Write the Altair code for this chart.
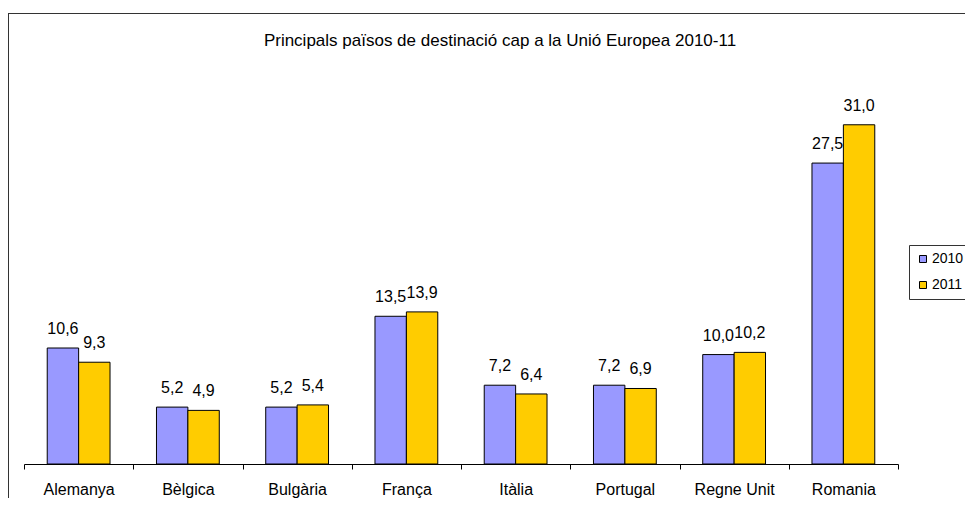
import altair as alt
import pandas as pd

categories = ["Alemanya", "Bèlgica", "Bulgària", "França", "Itàlia", "Portugal", "Regne Unit", "Romania"]
years = ["2010", "2011"]
values_2010 = [10.6, 5.2, 5.2, 13.5, 7.2, 7.2, 10.0, 27.5]
values_2011 = [9.3, 4.9, 5.4, 13.9, 6.4, 6.9, 10.2, 31.0]
colors = ["#9999FF", "#FFCC00"]
title_text = "Principals països de destinació cap a la Unió Europea 2010-11"

rows = []
for c, a, b in zip(categories, values_2010, values_2011):
    rows.append({"pais": c, "any": "2010", "valor": a})
    rows.append({"pais": c, "any": "2011", "valor": b})
df = pd.DataFrame(rows)

FONT = "Liberation Sans"

x_enc = alt.X(
    "pais:N",
    sort=categories,
    title=None,
    scale=alt.Scale(paddingInner=0, paddingOuter=0),
    axis=alt.Axis(
        tickBand="extent",
        labelAngle=0,
        labelFont=FONT,
        labelFontSize=16,
        labelColor="black",
        labelBaseline="alphabetic",
        labelPadding=25,
        tickSize=5,
        tickColor="black",
        domainColor="black",
        domainWidth=1,
        tickWidth=1,
        grid=False,
    ),
)
xoff = alt.XOffset("any:N", sort=years, scale=alt.Scale(paddingInner=0, paddingOuter=0.74))
y_enc = alt.Y("valor:Q", scale=alt.Scale(domain=[0, 35], nice=False), axis=None)

base = alt.Chart(df)

bars = base.mark_bar(stroke="black", strokeWidth=1).encode(
    x=x_enc,
    xOffset=xoff,
    y=y_enc,
    color=alt.Color(
        "any:N",
        sort=years,
        title=None,
        scale=alt.Scale(domain=years, range=colors),
        legend=alt.Legend(
            orient="none",
            legendX=885,
            legendY=164,
            padding=7,
            strokeColor="#333333",
            fillColor="white",
            symbolType="square",
            symbolSize=49,
            symbolStrokeColor="black",
            symbolStrokeWidth=1,
            symbolOpacity=1,
            labelFont=FONT,
            labelFontSize=14,
            labelColor="black",
            labelOffset=2,
            rowPadding=12,
        ),
    ),
)

labels = base.transform_calculate(
    lab="replace(format(datum.valor, '.1f'), '.', ',')"
).mark_text(font=FONT, fontSize=16, color="black", baseline="alphabetic", dy=-14).encode(
    x=alt.X("pais:N", sort=categories),
    xOffset=alt.XOffset("any:N", sort=years),
    y=alt.Y("valor:Q"),
    text="lab:N",
)

one = alt.Chart(pd.DataFrame({"k": [0]}))
frame_left = one.mark_rule(color="#333333", strokeWidth=1).encode(
    x=alt.value(-15.5), y=alt.value(-68), y2=alt.value(440)
)
frame_top = one.mark_rule(color="#333333", strokeWidth=1).encode(
    x=alt.value(-16), x2=alt.value(1000), y=alt.value(-67.5)
)
title = one.mark_text(font=FONT, fontSize=17, color="black", align="center", baseline="alphabetic").encode(
    x=alt.value(476), y=alt.value(-35), text=alt.value(title_text)
)

chart = (
    alt.layer(bars, labels, frame_left, frame_top, title)
    .properties(
        width=874,
        height=383,
        background="white",
        padding={"left": 16, "top": 73, "right": 67, "bottom": 34},
        autosize=alt.AutoSizeParams(type="none"),
    )
    .configure_view(strokeWidth=0, stroke="transparent")
)

chart.save("out.html", embed_options={"renderer": "svg", "actions": False})
